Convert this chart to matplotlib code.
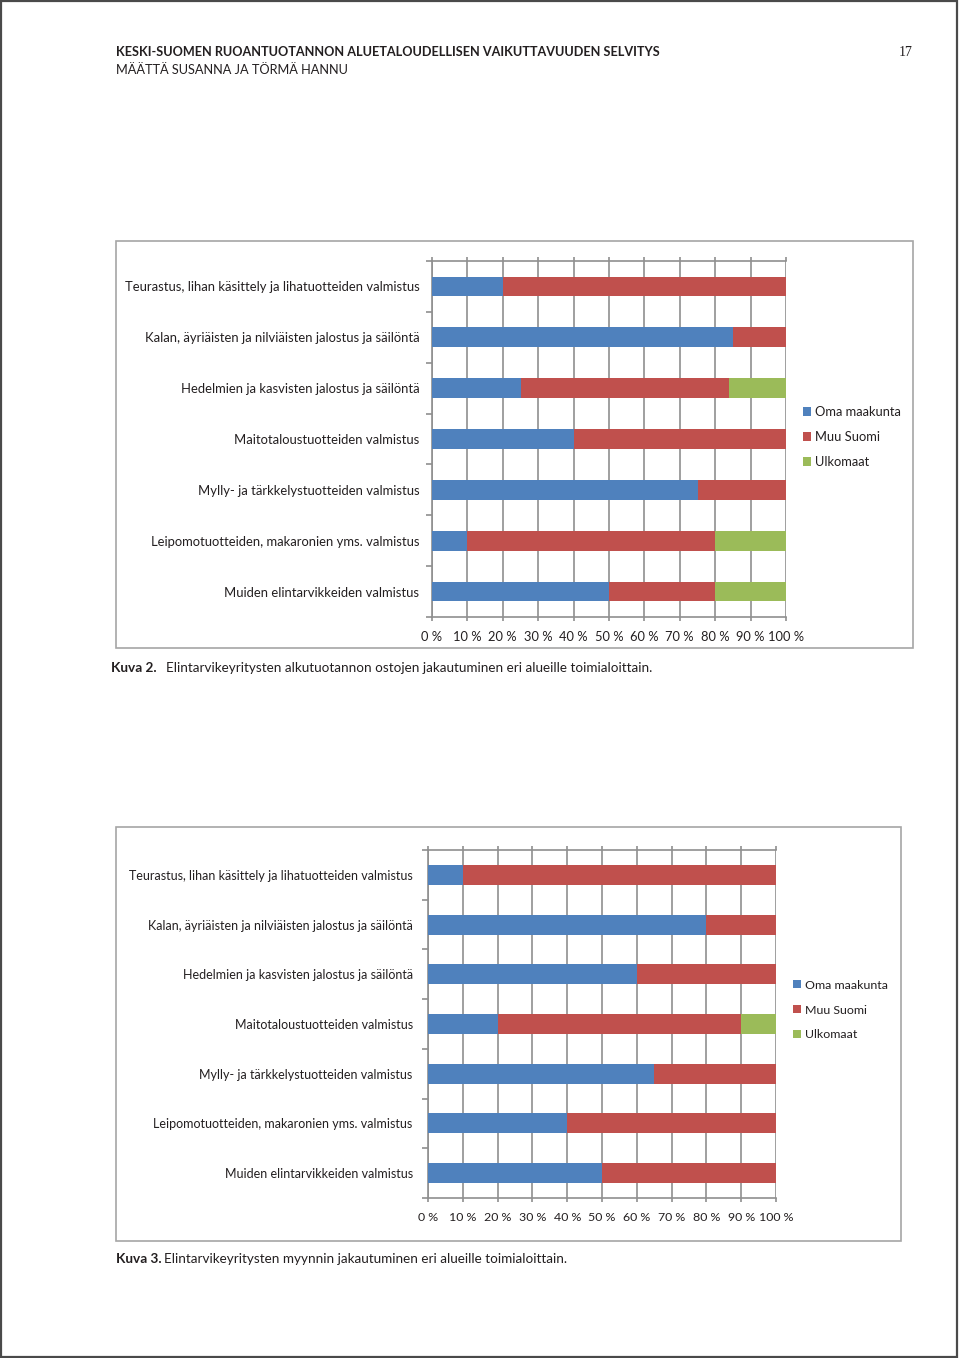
import matplotlib.pyplot as plt
from matplotlib.patches import Rectangle
import numpy as np

# toimialat (same for both charts)
toimialat = [
    "Teurastus, lihan käsittely ja lihatuotteiden valmistus",
    "Kalan, äyriäisten ja nilviäisten jalostus ja säilöntä",
    "Hedelmien ja kasvisten jalostus ja säilöntä",
    "Maitotaloustuotteiden valmistus",
    "Mylly- ja tärkkelystuotteiden valmistus",
    "Leipomotuotteiden, makaronien yms. valmistus",
    "Muiden elintarvikkeiden valmistus",
]
sarjat = ["Oma maakunta", "Muu Suomi", "Ulkomaat"]

# Kuva 2: alkutuotannon ostot (%)
oma_k2 = [20, 85, 25, 40, 75, 10, 50]
muu_k2 = [80, 15, 59, 60, 25, 70, 30]
ulko_k2 = [0, 0, 16, 0, 0, 20, 20]

# Kuva 3: myynti (%)
oma_k3 = [10, 80, 60, 20, 65, 40, 50]
muu_k3 = [90, 20, 40, 70, 35, 60, 50]
ulko_k3 = [0, 0, 0, 10, 0, 0, 0]

x_ticks = np.arange(0, 101, 10)
x_labels = [f"{v} %" for v in x_ticks]

colors = ["#4F81BD", "#C0504D", "#9BBB59"]
grid_c = "#8f8f8f"
txt_c = "#231f20"
FONT = "Lato"

W, H = 960, 1358
fig = plt.figure(figsize=(W / 100, H / 100), dpi=100)
plt.rcParams['font.family'] = [FONT, 'DejaVu Sans']


def px_rect(x0, y0, x1, y1):
    # pixel box (top-left origin) -> figure fraction rect
    return [x0 / W, 1 - y1 / H, (x1 - x0) / W, (y1 - y0) / H]


def draw_chart(rect, series, bar_h, legend_xy, fs, ypad, lspace):
    ax = fig.add_axes(rect)
    y = np.arange(len(toimialat))
    left = np.zeros(len(toimialat))
    for vals, c, name in zip(series, colors, sarjat):
        ax.barh(y, vals, left=left, height=bar_h, color=c, label=name, zorder=3)
        left += np.array(vals)
    ax.set_xlim(0, 100)
    ax.set_ylim(len(toimialat) - 0.5, -0.5)
    ax.set_xticks(x_ticks)
    ax.set_xticklabels(x_labels, fontsize=fs - 0.1, color=txt_c)
    ax.set_yticks(y)
    ax.set_yticklabels(toimialat, fontsize=fs, color=txt_c)
    ax.set_yticks(np.arange(-0.5, len(toimialat)), minor=True)
    ax.tick_params(axis='y', which='major', length=0, pad=ypad)
    ax.tick_params(axis='y', which='minor', length=4, color=grid_c, width=1.2)
    ax.tick_params(axis='x', top=True, bottom=True, length=3, width=1.2,
                   color=grid_c, direction='out', pad=7)
    ax.grid(axis='x', color=grid_c, linewidth=1.2, zorder=0)
    for s in ax.spines.values():
        s.set_color(grid_c)
        s.set_linewidth(1.2)
    ax.spines['right'].set_visible(False)
    ax.legend(loc='center left', bbox_to_anchor=legend_xy,
              bbox_transform=fig.transFigure, frameon=False,
              handlelength=0.65, handleheight=0.65, handletextpad=0.3,
              labelspacing=lspace, borderpad=0, borderaxespad=0,
              fontsize=fs - 0.1, labelcolor=txt_c)
    return ax


# page frame
fig.patches.append(Rectangle((0.001, 0.001), 0.996, 0.998, transform=fig.transFigure,
                             fill=False, edgecolor="#4a4a4a", linewidth=1.6))

# header
fig.text(116 / W, 1 - 52 / H, "KESKI-SUOMEN RUOANTUOTANNON ALUETALOUDELLISEN VAIKUTTAVUUDEN SELVITYS",
         fontsize=9.05, fontweight='bold', color=txt_c, va='center', ha='left')
fig.text(116 / W, 1 - 70 / H, "MÄÄTTÄ SUSANNA JA TÖRMÄ HANNU",
         fontsize=9.2, color=txt_c, va='center', ha='left')
fig.text(913 / W, 1 - 52 / H, "17", fontsize=10, family="Liberation Serif",
         color=txt_c, va='center', ha='right')

# chart boxes
for x0, y0, x1, y1 in [(116, 241, 913, 648), (116, 827, 901, 1241)]:
    r = px_rect(x0, y0, x1, y1)
    fig.patches.append(Rectangle((r[0], r[1]), r[2], r[3], transform=fig.transFigure,
                                 fill=False, edgecolor="#a6a6a6", linewidth=1.2))

draw_chart(px_rect(432, 261, 786, 617), [oma_k2, muu_k2, ulko_k2], 0.39,
           (803 / W, 1 - 437 / H), 9.4, 9, 1.02)
draw_chart(px_rect(428, 850, 776, 1198), [oma_k3, muu_k3, ulko_k3], 0.40,
           (793 / W, 1 - 1010 / H), 9.0, 11, 1.12)

# captions
fig.text(111 / W, 1 - 668 / H, "Kuva 2.", fontsize=9.8, fontweight='bold',
         color=txt_c, va='center')
fig.text(166 / W, 1 - 668 / H,
         "Elintarvikeyritysten alkutuotannon ostojen jakautuminen eri alueille toimialoittain.",
         fontsize=9.7, color=txt_c, va='center')
fig.text(116 / W, 1 - 1259 / H, "Kuva 3.", fontsize=9.8, fontweight='bold',
         color=txt_c, va='center')
fig.text(164 / W, 1 - 1259 / H,
         "Elintarvikeyritysten myynnin jakautuminen eri alueille toimialoittain.",
         fontsize=9.7, color=txt_c, va='center')

fig.savefig("out.png", dpi=100)
